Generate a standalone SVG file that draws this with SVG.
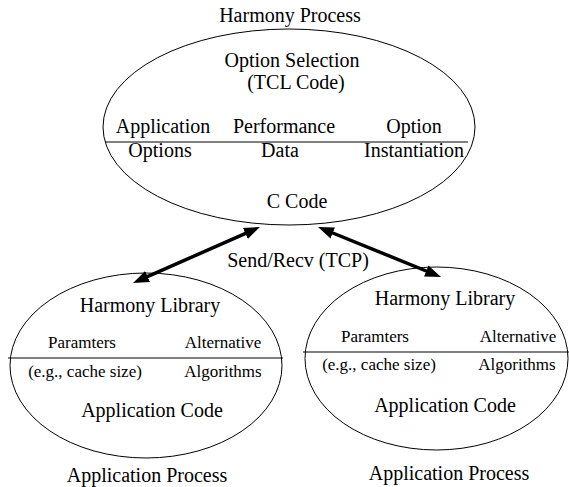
<svg xmlns="http://www.w3.org/2000/svg" width="569" height="487" viewBox="0 0 569 487">
<defs>
<style>
text{font-family:"Liberation Serif","Times New Roman",serif;fill:#000;text-anchor:middle}
.b{font-size:20px}
.s{font-size:17px}
.e{fill:none;stroke:#000;stroke-width:1}
.d{stroke:#000;stroke-width:1}
.c{stroke:#000;stroke-width:3.5;fill:none}
</style>
<marker id="ah" markerUnits="userSpaceOnUse" markerWidth="16" markerHeight="12" refX="4" refY="6" orient="auto-start-reverse">
<path d="M0,0 L16,6 L0,12 z" fill="#000"/>
</marker>
</defs>
<rect width="569" height="487" fill="#fff"/>
<g id="harmony-process">
<ellipse class="e" cx="289" cy="127" rx="186" ry="98"/>
<line class="d" x1="105" y1="142" x2="468" y2="142"/>
<text class="b" x="290" y="22">Harmony Process</text>
<text class="b" x="292" y="67">Option Selection</text>
<text class="b" x="296" y="89">(TCL Code)</text>
<text class="b" x="163" y="133">Application</text>
<text class="b" x="160" y="157">Options</text>
<text class="b" x="284" y="133">Performance</text>
<text class="b" x="280" y="157">Data</text>
<text class="b" x="414" y="133">Option</text>
<text class="b" x="414" y="157">Instantiation</text>
<text class="b" x="297" y="208">C Code</text>
</g>
<g id="app-process-left">
<ellipse class="e" cx="146" cy="365.5" rx="136" ry="92.5"/>
<line class="d" x1="8" y1="358" x2="283" y2="358"/>
<text class="b" x="150" y="312">Harmony Library</text>
<text class="s" x="82" y="348">Paramters</text>
<text class="s" x="223" y="348">Alternative</text>
<text class="s" x="85" y="377">(e.g., cache size)</text>
<text class="s" x="223" y="377">Algorithms</text>
<text class="b" x="152" y="417">Application Code</text>
<text class="b" x="147" y="482">Application Process</text>
</g>
<g id="app-process-right">
<ellipse class="e" cx="436.5" cy="358.5" rx="131.5" ry="91.5"/>
<line class="d" x1="303" y1="352" x2="569" y2="352"/>
<text class="b" x="445" y="305">Harmony Library</text>
<text class="s" x="375" y="342">Paramters</text>
<text class="s" x="518" y="342">Alternative</text>
<text class="s" x="379" y="370">(e.g., cache size)</text>
<text class="s" x="517" y="370">Algorithms</text>
<text class="b" x="445" y="412">Application Code</text>
<text class="b" x="449" y="480">Application Process</text>
</g>
<g id="connectors">
<line class="c" x1="144" y1="278.2" x2="249" y2="231.8" marker-start="url(#ah)" marker-end="url(#ah)"/>
<line class="c" x1="329.1" y1="231.5" x2="429.9" y2="272.5" marker-start="url(#ah)" marker-end="url(#ah)"/>
<text class="b" x="298" y="267">Send/Recv (TCP)</text>
</g>
</svg>
